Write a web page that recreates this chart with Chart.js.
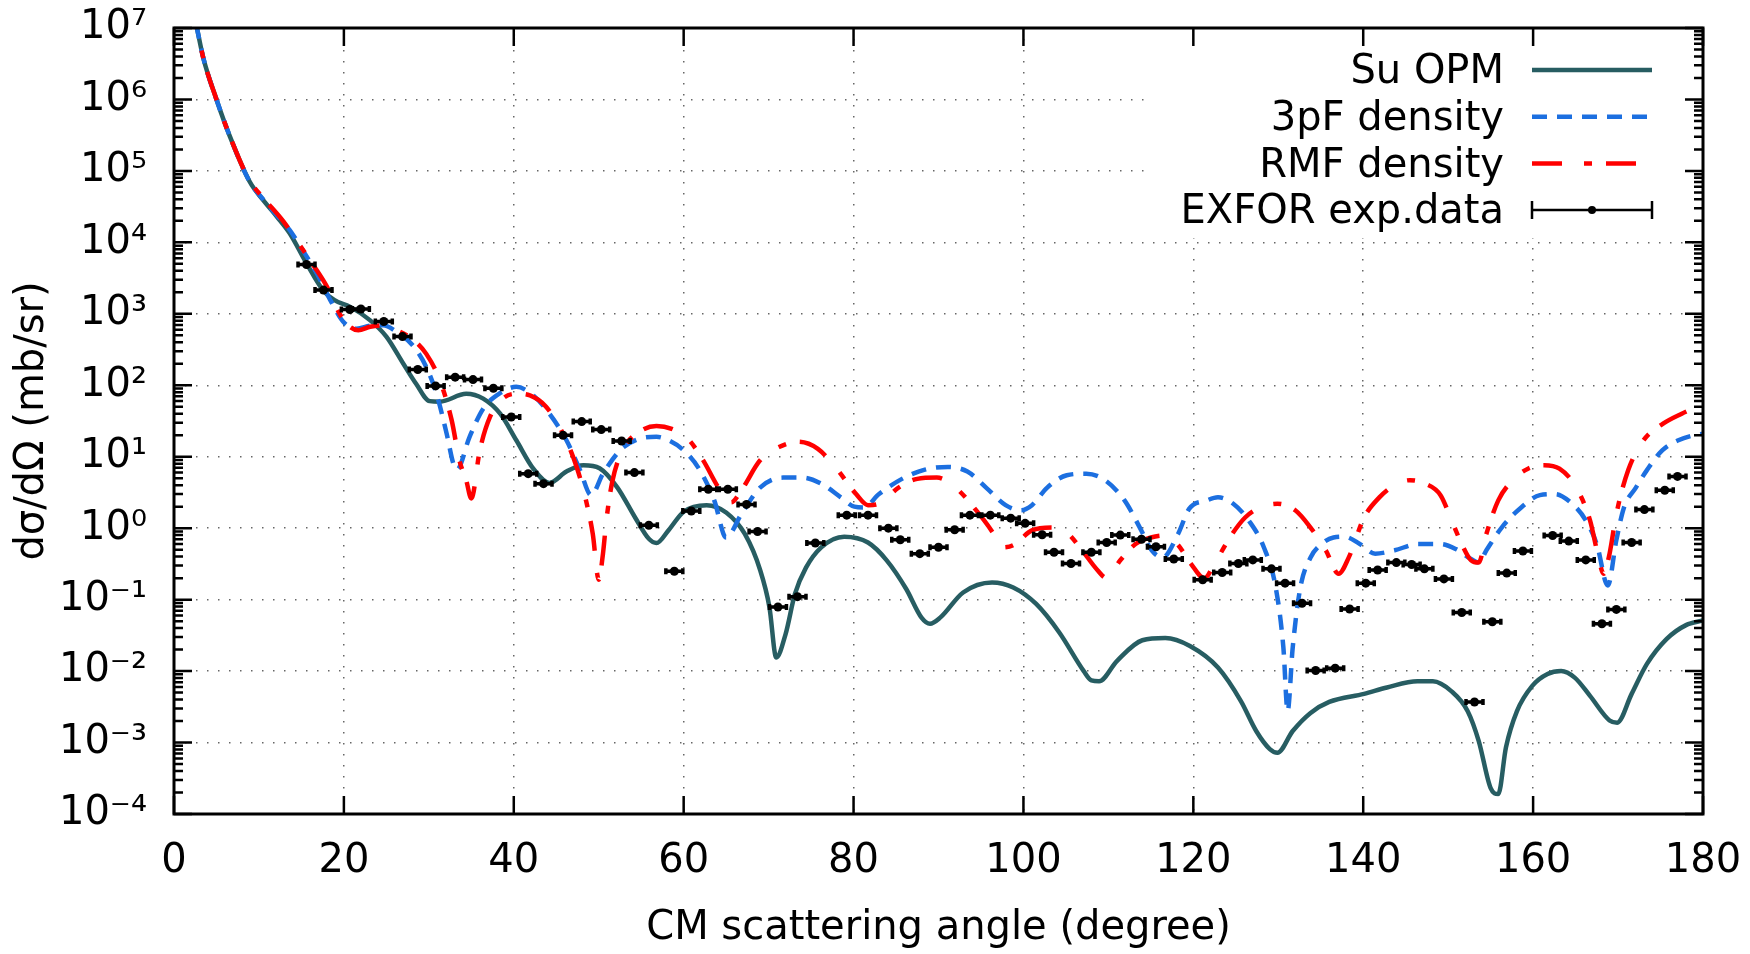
<!DOCTYPE html>
<html>
<head>
<meta charset="utf-8">
<script src="https://cdn.jsdelivr.net/npm/chart.js@4.4.1/dist/chart.umd.min.js"></script>
<style>
  html, body { margin: 0; padding: 0; background: #fff; }
  #wrap { width: 1750px; height: 954px; }
</style>
</head>
<body>
<div id="wrap"><canvas id="chart"></canvas></div>
<script>
// Su OPM
const opmAngle = [2.0, 2.7, 3.45, 5.0, 6.6, 8.9, 10.5, 12.1, 13.6, 15.6, 17.6, 18.9, 20.7, 23.1, 25.0, 27.0, 28.5, 30.1, 31.3, 34.4,
  36.4, 38.4, 40.3, 42.3, 44.2, 46.2, 48.2, 50.1, 52.2, 54.3, 55.9, 56.8, 58.2, 60.0, 62.7, 65.0, 67.2, 69.0, 70.1, 70.9,
  72.0, 73.1, 74.4, 76.2, 78.9, 81.7, 83.9, 86.2, 88.0, 89.0, 90.2, 92.9, 96.3, 98.8, 101.5, 104.2, 107.1, 108.0, 108.9, 111.0,
  114.0, 116.7, 119.6, 122.9, 125.6, 127.4, 129.0, 129.9, 131.7, 133.8, 136.0, 140.1, 142.8, 146.4, 148.2, 150.4, 152.3, 153.6, 155.0, 155.9,
  156.8, 158.1, 159.9, 161.7, 163.3, 164.9, 166.7, 169.0, 169.9, 171.6, 173.4, 175.7, 178.0, 180.0];
const opmValue = [2.5e7, 1.0e7, 3.8e6, 1.0e6, 3.0e5, 7.1e4, 3.9e4, 2.3e4, 1.35e4, 5.1e3, 2.1e3, 1.55e3, 1.26e3, 810, 480, 200, 105, 60, 59, 76,
  65, 40, 17, 6.8, 4.3, 6.2, 7.6, 6.9, 3.7, 1.4, 0.71, 0.62, 0.93, 1.7, 2.1, 1.66, 0.83, 0.26, 0.078, 0.0155,
  0.033, 0.12, 0.28, 0.54, 0.76, 0.63, 0.355, 0.141, 0.056, 0.046, 0.056, 0.126, 0.174, 0.148, 0.087, 0.035, 0.010, 0.0074, 0.0072, 0.0138,
  0.027, 0.029, 0.0224, 0.0112, 0.0038, 0.00145, 0.00081, 0.00072, 0.00145, 0.0026, 0.0037, 0.0048, 0.0059, 0.0072, 0.0072, 0.0052, 0.00275, 0.00105, 0.00023, 0.00019,
  0.00085, 0.00275, 0.0062, 0.0091, 0.010, 0.0081, 0.0045, 0.00204, 0.0019, 0.0048, 0.0126, 0.028, 0.044, 0.051];

// 3pF density
const pfAngle = [2.0, 2.7, 3.45, 5.0, 6.6, 8.9, 10.5, 12.1, 13.6, 15.0, 16.8, 18.5, 19.9, 21.5, 23.1, 24.6, 26.2, 28.2, 29.7, 30.9,
  32.1, 32.9, 33.3, 34.8, 36.4, 38.4, 40.3, 42.3, 44.2, 46.2, 47.8, 49.1, 50.5, 52.6, 54.5, 56.8, 58.2, 60.0, 61.8, 63.6,
  65.0, 66.8, 69.0, 71.7, 74.0, 76.2, 78.5, 80.1, 81.2, 83.0, 85.7, 88.4, 91.1, 93.4, 95.6, 97.9, 99.7, 101.0, 102.8, 105.1,
  107.4, 109.6, 111.9, 113.7, 115.1, 116.4, 118.2, 119.5, 121.6, 122.9, 124.7, 126.5, 128.3, 129.7, 130.6, 131.1, 131.7, 132.6, 133.8, 135.1,
  136.5, 137.8, 139.6, 141.4, 143.7, 146.4, 149.1, 150.9, 152.7, 153.6, 154.5, 156.3, 158.6, 160.8, 162.6, 164.4, 166.2, 167.6, 168.5, 168.8,
  169.8, 170.7, 172.1, 173.4, 175.2, 177.1, 178.9, 180.0];
const pfValue = [2.5e7, 1.0e7, 3.8e6, 1.0e6, 3.0e5, 7.1e4, 4.0e4, 2.4e4, 1.5e4, 8.3e3, 3.7e3, 1.48e3, 780, 620, 680, 690, 560, 350, 180, 76,
  21, 7.9, 6.6, 19, 47, 78, 95, 72, 40, 17, 6.5, 2.9, 5.8, 12.6, 17.4, 19, 17, 12.3, 6.8, 2.45,
  0.74, 1.58, 3.7, 5.1, 5.1, 4.2, 2.7, 2.0, 1.95, 3.0, 4.9, 6.6, 7.2, 6.2, 3.7, 2.1, 1.78, 2.1, 3.7, 5.5,
  5.8, 4.7, 2.45, 1.02, 0.49, 0.39, 0.83, 1.86, 2.45, 2.7, 2.2, 1.29, 0.54, 0.148, 0.0214, 0.00275, 0.0214, 0.148, 0.39, 0.60,
  0.74, 0.76, 0.60, 0.44, 0.49, 0.60, 0.60, 0.51, 0.37, 0.33, 0.49, 1.02, 1.95, 2.9, 3.0, 2.3, 1.29, 0.54, 0.18, 0.158,
  0.68, 1.95, 3.7, 6.5, 12.3, 17, 20, 21];

// RMF density
const rmfAngle = [2.0, 2.7, 3.45, 5.0, 6.6, 8.9, 10.5, 12.9, 14.4, 16.4, 18.0, 19.5, 20.7, 21.7, 23.1, 24.7, 26.2, 28.2, 29.7, 31.3,
  32.7, 33.6, 34.4, 35.0, 36.0, 37.2, 38.7, 40.3, 41.9, 43.8, 45.8, 47.4, 48.5, 49.3, 50.0, 50.5, 50.9, 51.6, 52.8, 54.7,
  56.8, 58.6, 60.5, 62.3, 64.1, 65.6, 66.8, 69.0, 71.3, 73.5, 75.8, 78.0, 80.3, 81.7, 83.0, 85.3, 87.5, 89.8, 92.0, 94.3,
  96.5, 97.4, 98.8, 101.0, 103.3, 105.1, 106.9, 108.7, 109.8, 111.4, 113.2, 115.0, 116.5, 118.1, 119.7, 121.3, 122.5, 124.3, 126.1, 127.9,
  129.9, 132.0, 133.8, 135.6, 137.1, 138.3, 140.1, 141.9, 143.7, 145.5, 147.3, 149.1, 150.4, 151.6, 152.7, 153.6, 154.5, 155.9, 157.6, 159.4,
  161.3, 163.1, 164.9, 166.7, 167.6, 168.3, 169.0, 169.8, 171.2, 173.0, 175.3, 177.5, 179.0];
const rmfValue = [2.5e7, 1.0e7, 3.8e6, 1.0e6, 3.0e5, 7.3e4, 4.2e4, 1.95e4, 1.07e4, 4.8e3, 2.4e3, 1.0e3, 660, 590, 660, 690, 590, 430, 275, 117,
  32, 8.9, 4.7, 2.6, 12.3, 36, 65, 76, 72, 50, 21, 7.2, 2.45, 0.83, 0.19, 0.44, 1.29, 4.5, 12.3, 22,
  27, 24.5, 17.8, 8.9, 3.7, 2.3, 3.4, 8.9, 13.8, 16.2, 12.9, 6.8, 3.0, 2.1, 2.2, 3.7, 4.9, 5.1, 3.7, 1.86,
  0.83, 0.54, 0.58, 0.93, 1.02, 0.87, 0.49, 0.26, 0.20, 0.355, 0.60, 0.74, 0.79, 0.60, 0.32, 0.20, 0.32, 0.74, 1.41, 1.95,
  2.2, 1.78, 1.02, 0.49, 0.23, 0.39, 1.41, 2.7, 4.0, 4.7, 4.2, 2.9, 1.29, 0.60, 0.355, 0.33, 0.83, 2.45, 4.7, 6.8,
  7.6, 6.8, 4.0, 1.29, 0.44, 0.23, 0.44, 1.58, 6.5, 17, 29, 40, 48];

// EXFOR exp.data
const expAngle = [15.6, 17.6, 20.7, 22.0, 24.7, 26.9, 28.7, 30.8, 33.1, 35.2, 37.6, 39.7, 41.7, 43.5, 45.8, 48.0, 50.3, 52.7, 54.2, 55.9,
  58.9, 60.9, 62.9, 65.2, 67.4, 68.7, 71.1, 73.4, 75.5, 79.2, 81.7, 84.1, 85.5, 87.8, 90.0, 91.9, 93.7, 96.1, 98.5, 100.2,
  102.2, 103.6, 105.6, 108.0, 109.8, 111.4, 113.9, 115.6, 117.7, 121.1, 123.4, 125.3, 127.0, 129.2, 130.8, 132.8, 134.4, 136.7, 138.4, 140.3,
  141.7, 143.9, 145.7, 147.2, 149.5, 151.6, 153.1, 155.2, 156.9, 158.8, 162.3, 164.2, 166.2, 168.1, 169.8, 171.6, 173.1, 175.5, 177.0];
const expValue = [4900, 2150, 1150, 1170, 780, 480, 166, 98, 130, 120, 91, 36, 5.8, 4.2, 20, 31, 24, 16.6, 6.0, 1.1,
  0.25, 1.74, 3.5, 3.5, 2.15, 0.9, 0.079, 0.11, 0.62, 1.52, 1.52, 1.0, 0.69, 0.44, 0.54, 0.95, 1.52, 1.52, 1.38, 1.17,
  0.81, 0.46, 0.32, 0.46, 0.63, 0.80, 0.70, 0.55, 0.37, 0.19, 0.24, 0.32, 0.36, 0.27, 0.17, 0.089, 0.0102, 0.011, 0.074, 0.17,
  0.26, 0.33, 0.31, 0.27, 0.195, 0.066, 0.0037, 0.049, 0.235, 0.48, 0.79, 0.66, 0.36, 0.046, 0.073, 0.63, 1.82, 3.4, 5.3];
const expAngleErr = 1.0; // half width of the horizontal error bar, degrees

// y axis ticks
const yTickValues = [1e-4, 1e-3, 1e-2, 1e-1, 1e0, 1e1, 1e2, 1e3, 1e4, 1e5, 1e6, 1e7];
const yTickLabels = ['10⁻⁴', '10⁻³', '10⁻²', '10⁻¹', '10⁰', '10¹', '10²', '10³', '10⁴', '10⁵', '10⁶', '10⁷'];

const FONT = '"DejaVu Sans", "Liberation Sans", sans-serif';
Chart.defaults.font.family = FONT;
Chart.defaults.font.size = 40;
Chart.defaults.color = '#000';

const toPoints = (xs, ys) => xs.map((x, i) => ({ x: x, y: ys[i] }));

// keep the plot box where the reference has it: no extra room for label overhang
const noOverhang = (scale) => {
    scale.paddingLeft = 0;
    scale.paddingRight = 0;
    scale.paddingTop = 0;
    scale.paddingBottom = 0;
};

// white box behind the legend (hides the grid there)
const legendBox = {
    id: 'legendBox',
    beforeDatasetsDraw(chart) {
        const { ctx, chartArea: a } = chart;
        ctx.save();
        ctx.fillStyle = '#fff';
        ctx.fillRect(a.right - 559, a.top, 559, 210);
        ctx.restore();
    },
};

// horizontal error bars of the EXFOR set
const errorBars = {
    id: 'errorBars',
    beforeDatasetDraw(chart, args) {
        if (args.index !== 3) return;
        const { ctx, scales: { x, y } } = chart;
        ctx.save();
        ctx.strokeStyle = '#000';
        ctx.lineWidth = 3.5;
        ctx.beginPath();
        expAngle.forEach((a, i) => {
            const x0 = x.getPixelForValue(a - expAngleErr);
            const x1 = x.getPixelForValue(a + expAngleErr);
            const py = y.getPixelForValue(expValue[i]);
            ctx.moveTo(x0, py); ctx.lineTo(x1, py);
            ctx.moveTo(x0, py - 3); ctx.lineTo(x0, py + 3);
            ctx.moveTo(x1, py - 3); ctx.lineTo(x1, py + 3);
        });
        ctx.stroke();
        ctx.restore();
    },
};

// border with inward ticks (gnuplot style)
const frame = {
    id: 'frame',
    afterDatasetsDraw(chart) {
        const { ctx, chartArea: a, scales: { x, y } } = chart;
        ctx.save();
        ctx.strokeStyle = '#000';
        ctx.lineWidth = 2.5;
        ctx.beginPath();
        x.ticks.forEach((t) => {
            const px = x.getPixelForValue(t.value);
            ctx.moveTo(px, a.bottom); ctx.lineTo(px, a.bottom - 18);
            ctx.moveTo(px, a.top); ctx.lineTo(px, a.top + 18);
        });
        yTickValues.forEach((v, k) => {
            const py = y.getPixelForValue(v);
            ctx.moveTo(a.left, py); ctx.lineTo(a.left + 18, py);
            ctx.moveTo(a.right, py); ctx.lineTo(a.right - 18, py);
            if (k === yTickValues.length - 1) return;
            for (let m = 2; m <= 9; m++) {
                const q = y.getPixelForValue(v * m);
                ctx.moveTo(a.left, q); ctx.lineTo(a.left + 9, q);
                ctx.moveTo(a.right, q); ctx.lineTo(a.right - 9, q);
            }
        });
        ctx.stroke();
        ctx.lineWidth = 3;
        ctx.strokeRect(a.left, a.top, a.right - a.left, a.bottom - a.top);
        ctx.restore();
    },
};

// legend in the top right corner: text on the left, sample on the right
const insideLegend = {
    id: 'insideLegend',
    afterDraw(chart) {
        const { ctx, chartArea: a } = chart;
        ctx.save();
        ctx.font = '40px ' + FONT;
        ctx.textAlign = 'right';
        ctx.textBaseline = 'middle';
        chart.data.datasets.forEach((ds, i) => {
            const cy = a.top + 42 + i * 46.7;
            ctx.fillStyle = '#000';
            ctx.fillText(ds.label, a.right - 199, cy + 3);
            const x0 = a.right - 171, x1 = a.right - 51;
            ctx.beginPath();
            if (ds.showLine === false) {
                ctx.setLineDash([]);
                ctx.strokeStyle = '#000';
                ctx.lineWidth = 2.5;
                ctx.moveTo(x0, cy); ctx.lineTo(x1, cy);
                ctx.moveTo(x0, cy - 9); ctx.lineTo(x0, cy + 9);
                ctx.moveTo(x1, cy - 9); ctx.lineTo(x1, cy + 9);
                ctx.stroke();
                ctx.beginPath();
                ctx.fillStyle = '#000';
                ctx.arc((x0 + x1) / 2, cy, 4, 0, Math.PI * 2);
                ctx.fill();
            } else {
                ctx.strokeStyle = ds.borderColor;
                ctx.lineWidth = ds.borderWidth;
                ctx.setLineDash(ds.borderDash || []);
                ctx.moveTo(x0, cy); ctx.lineTo(x1, cy);
                ctx.stroke();
            }
        });
        ctx.restore();
    },
};

new Chart(document.getElementById('chart'), {
    type: 'scatter',
    data: {
        datasets: [
            {
                label: 'Su OPM',
                data: toPoints(opmAngle, opmValue),
                showLine: true,
                borderColor: '#275d62',
                borderWidth: 4.5,
                pointRadius: 0,
                cubicInterpolationMode: 'monotone',
                order: 3,
            },
            {
                label: '3pF density',
                data: toPoints(pfAngle, pfValue),
                showLine: true,
                borderColor: '#1c6fe0',
                borderWidth: 4.5,
                borderDash: [15, 10],
                pointRadius: 0,
                cubicInterpolationMode: 'monotone',
                order: 2,
            },
            {
                label: 'RMF density',
                data: toPoints(rmfAngle, rmfValue),
                showLine: true,
                borderColor: '#ff0000',
                borderWidth: 4.5,
                borderDash: [30, 22, 8, 14],
                pointRadius: 0,
                cubicInterpolationMode: 'monotone',
                order: 1,
            },
            {
                label: 'EXFOR exp.data',
                data: toPoints(expAngle, expValue),
                showLine: false,
                pointRadius: 4.5,
                pointBackgroundColor: '#000',
                pointBorderColor: '#000',
                pointBorderWidth: 0,
                order: 0,
            },
        ],
    },
    options: {
        responsive: true,
        maintainAspectRatio: false,
        devicePixelRatio: 1,
        animation: false,
        events: [],
        layout: { padding: { top: 28, right: 47, left: 0, bottom: 0 } },
        plugins: {
            legend: { display: false },
            tooltip: { enabled: false },
        },
        scales: {
            x: {
                type: 'linear',
                min: 0,
                max: 180,
                afterFit: (scale) => { scale.height = 140; noOverhang(scale); },
                ticks: { stepSize: 20, padding: 24, maxRotation: 0 },
                grid: { color: 'rgba(0,0,0,0.6)', lineWidth: 1.5, drawTicks: false },
                border: { display: false, dash: [1.5, 9.5] },
                title: { display: true, text: 'CM scattering angle (degree)', padding: { top: 0, bottom: 1 } },
            },
            y: {
                type: 'logarithmic',
                min: 1e-4,
                max: 1e7,
                afterFit: (scale) => { scale.width = 174; noOverhang(scale); },
                afterBuildTicks: (scale) => { scale.ticks = yTickValues.map((v) => ({ value: v })); },
                ticks: {
                    autoSkip: false,
                    padding: 27,
                    callback: (value, index) => yTickLabels[index],
                },
                grid: { color: 'rgba(0,0,0,0.6)', lineWidth: 1.5, drawTicks: false },
                border: { display: false, dash: [1.5, 9.5] },
                title: { display: true, text: 'dσ/dΩ (mb/sr)', padding: { top: 9, bottom: 0 } },
            },
        },
    },
    plugins: [legendBox, errorBars, frame, insideLegend],
});
</script>
</body>
</html>
